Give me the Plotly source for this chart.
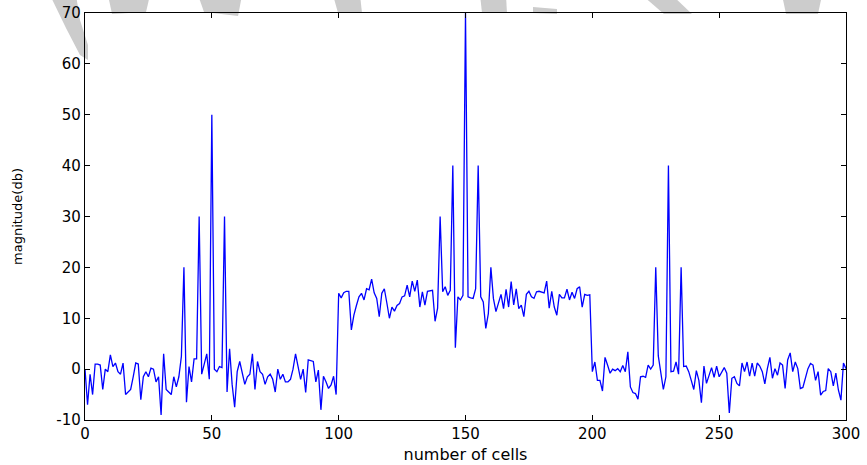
import plotly.graph_objects as go

# number of cells (x) and magnitude in dB (y)
cells = list(range(0, 301))

mag_0_99 = [
    0, -7, -1, -5, 1, 1, 0.8, -4, 0, -0.5,
    2.8, 0.5, 1.2, -0.5, -1, 1.2, -5, -4.5, -4, -1.5,
    1.2, 1, -6, -1.5, -0.5, -1.5, 0.2, 0, -2.5, -1.5,
    -9, 3, -4, -4.5, -5, -1.5, -3.5, -1.5, 2.5, 20,
    -6.5, 0.5, -2.5, 2, 2, 30, -1, 1, 3, -2,
    50, 0, -0.5, 0.5, 0.3, 30, -4.5, 4, -3, -7.5,
    -0.5, 1.5, -1, -3, -1.5, -1, 3, -4, 1.5, -0.5,
    -1, -3, -1.5, -1, -2, -4.5, 0, -2, -1, -2.5,
    -2.5, -2, 0, 3, 0.5, -2, 0, -4.6, 1.8, 1.7,
    1.5, -2.5, -0.2, -8, -1.4, -2.5, -3.8, -3.1, -1.4, -5,
]
mag_100_199 = [
    14.9, 14, 15, 15.3, 15.3, 7.7, 10.6, 12.5, 14.2, 14.9,
    13.6, 15.8, 15.6, 17.7, 15, 13.9, 10.3, 14.9, 15.8, 13,
    10, 12.2, 11.4, 12.5, 12.9, 14.2, 14.4, 16.5, 14.2, 17.3,
    15.3, 17.5, 12.2, 15.2, 12.6, 15.3, 15.4, 15.5, 9.4, 12,
    30, 15.2, 16.2, 14.5, 15.5, 40, 4.2, 14.2, 13.6, 14.5,
    70, 14.2, 14, 13.9, 15.8, 40, 14.2, 13.2, 8, 10.9,
    20, 13.9, 11.3, 13.2, 14.7, 11.9, 15.7, 12.2, 17.2, 12.6,
    15.8, 11.9, 12.6, 10.3, 14.7, 15.3, 14.2, 13.9, 15.2, 15.3,
    15.1, 15, 17.3, 12, 15.3, 12.2, 10.6, 14.7, 14, 14,
    15.7, 13.6, 15.1, 13.9, 15.8, 16.2, 12.2, 14.7, 14.5, 14.6,
]
mag_200_300 = [
    -0.5, 1.4, -2.2, -2.2, -4.3, 2.3, 0.8, -0.8, 0, -0.3,
    0.1, -0.5, 0.7, -0.5, 3.4, -3.5, -4.6, -4.8, -5.9, -1.5,
    -1.4, -1.6, 0.8, 0, 0.8, 20, 2.6, -1.2, -4, -1.5,
    40, -0.5, -0.4, 1.4, -1, 20, 0.5, 0.6, -0.5, -2.2,
    -4, -0.3, -2.2, -6.6, 0.6, -2.8, -1.2, 0.3, -1.6, 0.6,
    -1.5, -0.5, 0.3, -0.8, -8.6, -1.8, -1.5, -2.8, -3.3, 1.2,
    -0.5, 1.4, -1.4, 1.2, -1.4, 1.2, 0.6, -0.5, -2.9, 0.1,
    2.3, -1.8, 0.1, -1.2, 1.2, 0.8, -3.8, 1.8, 3.2, -0.5,
    1.4, 0.1, -3.8, -3.6, -1.6, 0.1, 1.1, 0.8, -2.2, -0.5,
    -5.1, -4.4, -4.2, 0.1, -0.5, -3.3, -0.8, -4.1, -6.1, 1.2,
    0.1,
]
magnitude = mag_0_99 + mag_100_199 + mag_200_300

x_ticks = [0, 50, 100, 150, 200, 250, 300]
y_ticks = [-10, 0, 10, 20, 30, 40, 50, 60, 70]

W, H = 867, 465
L, R, T, B = 85, 21, 13, 45
PW, PH = W - L - R, H - T - B


def px(x):
    return (x - L) / PW


def py(y):
    return (H - B - y) / PH


def poly(points):
    return "M " + " L ".join(f"{px(a):.4f},{py(b):.4f}" for a, b in points) + " Z"


wm = "#cccccc"
watermark = [
    [(50, -5), (76, -5), (80, 20), (88, 45), (88, 60), (80, 55), (66, 28)],
    [(108, -5), (150, -5), (146, 12), (112, 14)],
    [(198, -5), (242, -5), (238, 16), (204, 12)],
    [(333, -5), (360, -5), (362, 13), (338, 13)],
    [(480, -5), (506, -5), (507, 13), (482, 13)],
    [(533, 7), (557, 9), (557, 14), (533, 13)],
    [(642, -5), (672, -5), (692, 14), (664, 14)],
    [(782, -5), (822, -5), (818, 14), (786, 14)],
]

fig = go.Figure()
fig.add_trace(go.Scatter(
    x=cells, y=magnitude, mode="lines",
    line=dict(color="#0000ff", width=1.3),
    showlegend=False, hoverinfo="x+y",
))

shapes = [
    dict(type="path", xref="paper", yref="paper", path=poly(p),
         fillcolor=wm, line=dict(width=0), layer="below")
    for p in watermark
]

axis_common = dict(
    showline=True, linecolor="black", linewidth=1.3, mirror="allticks",
    ticks="inside", ticklen=5, tickcolor="black", tickwidth=1,
    showgrid=False, zeroline=False, automargin=False,
    tickfont=dict(family="DejaVu Sans, Arial, sans-serif", size=15, color="black"),
)

fig.update_layout(
    width=W, height=H,
    margin=dict(l=L, r=R, t=T, b=B, pad=0),
    paper_bgcolor="white", plot_bgcolor="white",
    shapes=shapes,
    xaxis=dict(range=[0, 300], tickvals=x_ticks, ticktext=[str(v) for v in x_ticks],
               title=dict(text="number of cells", standoff=6,
                          font=dict(family="DejaVu Sans, Arial, sans-serif", size=16, color="black")),
               **axis_common),
    yaxis=dict(range=[-10, 70], tickvals=y_ticks, ticktext=[str(v) for v in y_ticks],
               title=dict(text="magnitude(db)", standoff=30,
                          font=dict(family="DejaVu Sans, Arial, sans-serif", size=13, color="black")),
               **axis_common),
)

fig.write_html(
    "out.html",
    config={"displayModeBar": False},
    post_script="document.body.style.margin='0';document.body.style.overflow='hidden';",
)
